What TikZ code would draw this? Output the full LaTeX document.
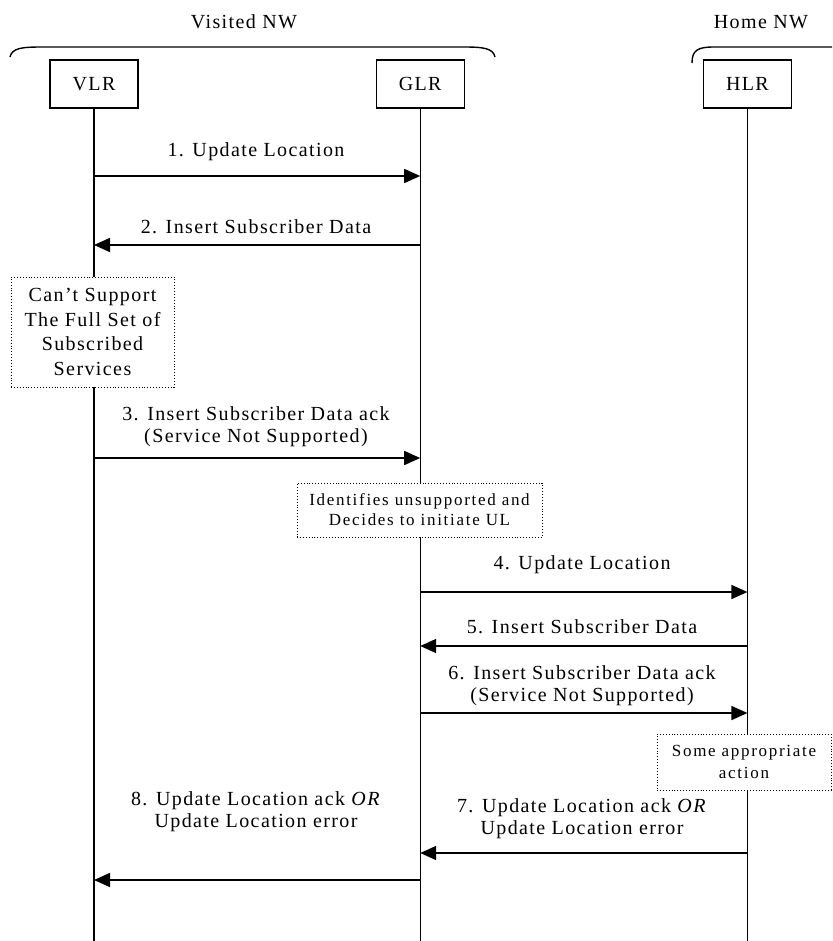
\documentclass[tikz,border=0pt]{standalone}
\usepackage{fontspec}
\setmainfont{Liberation Serif}[LetterSpace=7]
\usetikzlibrary{positioning,arrows.meta}

\begin{document}
\begin{tikzpicture}
    [x=1pt, y=-1pt,
     every node/.style={align=center, font=\fontsize{20}{22}\selectfont},
     entity/.style={draw, line width=1.2pt, minimum width=88pt, minimum height=48pt, inner sep=0pt},
     note/.style={draw, dotted, line width=0.9pt, fill=white, inner sep=0pt},
     small/.style={font=\fontsize{17}{20}\selectfont\addfontfeature{LetterSpace=10}},
     life/.style={line width=1.2pt},
     arr/.style={line width=1.6pt, -{Triangle[length=16pt,width=14pt]}},
    ]
    \useasboundingbox (0,0) rectangle (832,941);

    % networks
    \node (visited) at (244,22) {Visited NW};
    \node (home) at (761,22) {Home NW};
    \draw[line width=1.4pt] (10,57) .. controls (12,48) and (22,47) .. (42,47)
        -- (463,47) .. controls (483,47) and (493,48) .. (495,57);
    \draw[line width=1.4pt] (692,63) .. controls (692,50) and (698,47) .. (714,47) -- (832,47);

    % entities
    \node[entity] (vlr) at (94,84) {VLR};
    \node[entity] (glr) [right=237pt of vlr] {GLR};
    \node[entity] (hlr) [right=238pt of glr] {HLR};

    \coordinate (vlr-end) at (vlr |- 0,941);
    \coordinate (glr-end) at (glr |- 0,941);
    \coordinate (hlr-end) at (hlr |- 0,941);
    \draw[life] (vlr) -- (vlr-end);
    \draw[life] (glr) -- (glr-end);
    \draw[life] (hlr) -- (hlr-end);

    % local actions
    \node[note, minimum width=163pt, minimum height=110pt, font=\fontsize{20}{24.5}\selectfont]
        (cant) at (92.5,332) {Can't Support\\The Full Set of\\Subscribed\\Services};
    \node[note, small, minimum width=245pt, minimum height=54pt]
        (identify) at (419.5,510) {Identifies unsupported and\\Decides to initiate UL};
    \node[note, minimum width=174pt, minimum height=56pt,
          font=\fontsize{17}{22}\selectfont\addfontfeature{LetterSpace=10}]
        (action) at (744,762) {Some appropriate\\action};

    % messages
    \draw[arr] (vlr |- 0,176) -- (glr |- 0,176);
    \node (m1) at (256,152) {1. Update Location};

    \draw[arr] (glr |- 0,245) -- (vlr |- 0,245);
    \node (m2) at (256,227) {2. Insert Subscriber Data};

    \draw[arr] (vlr |- 0,458) -- (glr |- 0,458);
    \node (m3) at (256,427) {3. Insert Subscriber Data ack\\(Service Not Supported)};

    \draw[arr] (glr |- 0,592) -- (hlr |- 0,592);
    \node (m4) at (582,565) {4. Update Location};

    \draw[arr] (hlr |- 0,646) -- (glr |- 0,646);
    \node (m5) at (582,627) {5. Insert Subscriber Data};

    \draw[arr] (glr |- 0,713) -- (hlr |- 0,713);
    \node (m6) at (582,686) {6. Insert Subscriber Data ack\\(Service Not Supported)};

    \draw[arr] (hlr |- 0,853) -- (glr |- 0,853);
    \node (m7) at (582,819) {7. Update Location ack \textit{OR}\\Update Location error};

    \draw[arr] (glr |- 0,880) -- (vlr |- 0,880);
    \node (m8) at (256,812) {8. Update Location ack \textit{OR}\\Update Location error};

\end{tikzpicture}
\end{document}
